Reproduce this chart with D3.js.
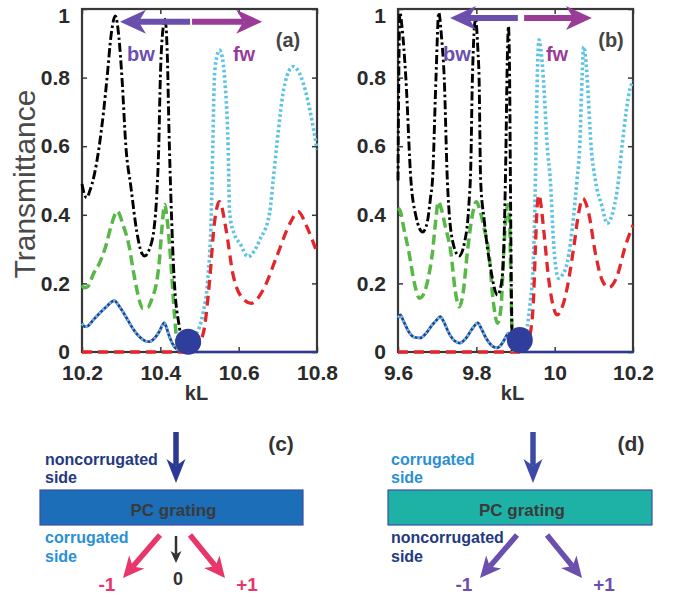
<!DOCTYPE html>
<html><head><meta charset="utf-8">
<script src="https://cdn.jsdelivr.net/npm/d3@7/dist/d3.min.js"></script>
<style>body{margin:0;background:#fff}svg{display:block}text{font-family:"Liberation Sans",Arial,sans-serif}</style>
</head><body><svg id="c" width="674" height="597"></svg>
<script>
// ---------- tick labels ----------
const xTicksA=[10.2,10.4,10.6,10.8];
const xTickLabelsA=["10.2","10.4","10.6","10.8"];
const xTicksB=[9.6,9.8,10,10.2];
const xTickLabelsB=["9.6","9.8","10","10.2"];
const yTicks=[0,0.2,0.4,0.6,0.8,1];
const yTickLabels=["0","0.2","0.4","0.6","0.8","1"];

// ---------- panel (a) series [kL, T] ----------
const blackA=[[10.200,0.49],[10.206,0.46],[10.212,0.45],[10.220,0.47],[10.232,0.52],[10.244,0.60],[10.255,0.70],[10.264,0.80],[10.275,0.93],[10.285,0.98],[10.294,0.92],[10.302,0.80],[10.312,0.60],[10.325,0.48],[10.340,0.35],[10.352,0.29],[10.360,0.28],[10.372,0.30],[10.384,0.36],[10.391,0.46],[10.396,0.60],[10.400,0.80],[10.405,0.92],[10.412,0.97],[10.418,0.86],[10.422,0.65],[10.427,0.45],[10.435,0.22],[10.449,0.07],[10.460,0.01],[10.470,0]];
const greenA=[[10.200,0.195],[10.206,0.187],[10.214,0.19],[10.230,0.23],[10.245,0.26],[10.261,0.31],[10.275,0.37],[10.290,0.41],[10.305,0.37],[10.320,0.31],[10.332,0.23],[10.342,0.172],[10.355,0.127],[10.368,0.13],[10.380,0.16],[10.390,0.20],[10.397,0.26],[10.404,0.36],[10.411,0.43],[10.418,0.38],[10.427,0.26],[10.436,0.11],[10.444,0.015],[10.452,0]];
const blueALeft=[[10.200,0.083],[10.207,0.074],[10.215,0.076],[10.230,0.095],[10.245,0.113],[10.265,0.135],[10.282,0.15],[10.297,0.13],[10.312,0.103],[10.330,0.068],[10.346,0.045],[10.360,0.033],[10.372,0.03],[10.385,0.04],[10.397,0.059],[10.410,0.085],[10.416,0.07],[10.423,0.045],[10.436,0.015],[10.450,0.004]];
const blueARight=[[10.465,0],[10.800,0]];
const cyanARight=[[10.465,0.02],[10.483,0.045],[10.492,0.054],[10.509,0.113],[10.521,0.21],[10.530,0.40],[10.534,0.60],[10.538,0.80],[10.544,0.86],[10.551,0.88],[10.558,0.86],[10.564,0.80],[10.573,0.60],[10.577,0.405],[10.590,0.34],[10.603,0.317],[10.624,0.278],[10.640,0.295],[10.654,0.327],[10.679,0.405],[10.688,0.50],[10.697,0.60],[10.718,0.783],[10.739,0.832],[10.760,0.80],[10.782,0.705],[10.800,0.59]];
const redA=[[10.200,0],[10.470,0],[10.490,0.008],[10.500,0.025],[10.513,0.074],[10.526,0.21],[10.538,0.375],[10.551,0.438],[10.568,0.356],[10.585,0.229],[10.607,0.161],[10.632,0.142],[10.662,0.18],[10.697,0.278],[10.731,0.375],[10.752,0.409],[10.774,0.365],[10.800,0.29]];
const dotA=[10.471,0.03];

// ---------- panel (b) series [kL, T] ----------
const blackB=[[9.600,0.50],[9.602,0.80],[9.605,0.99],[9.610,0.95],[9.620,0.80],[9.633,0.50],[9.645,0.40],[9.663,0.35],[9.675,0.38],[9.683,0.45],[9.688,0.50],[9.697,0.80],[9.704,0.99],[9.711,0.92],[9.718,0.80],[9.726,0.50],[9.740,0.32],[9.756,0.28],[9.770,0.32],[9.781,0.43],[9.786,0.55],[9.790,0.80],[9.798,0.97],[9.804,0.88],[9.807,0.80],[9.811,0.50],[9.820,0.385],[9.837,0.24],[9.854,0.166],[9.864,0.20],[9.870,0.30],[9.875,0.55],[9.879,0.85],[9.882,0.95],[9.885,0.80],[9.887,0.50],[9.890,0.12],[9.893,0.0]];
const greenB=[[9.600,0.42],[9.606,0.41],[9.615,0.36],[9.628,0.29],[9.642,0.20],[9.655,0.157],[9.666,0.17],[9.678,0.22],[9.688,0.29],[9.696,0.38],[9.703,0.438],[9.710,0.42],[9.720,0.37],[9.735,0.29],[9.746,0.18],[9.756,0.132],[9.766,0.17],[9.777,0.29],[9.790,0.40],[9.800,0.438],[9.810,0.41],[9.820,0.36],[9.832,0.29],[9.843,0.15],[9.854,0.084],[9.863,0.13],[9.870,0.29],[9.876,0.40],[9.881,0.43],[9.885,0.38],[9.888,0.22],[9.891,0.06],[9.894,0.0]];
const blueBLeft=[[9.600,0.10],[9.606,0.108],[9.614,0.09],[9.627,0.06],[9.642,0.043],[9.657,0.041],[9.672,0.055],[9.688,0.08],[9.700,0.095],[9.708,0.103],[9.716,0.09],[9.730,0.055],[9.745,0.032],[9.758,0.026],[9.772,0.038],[9.788,0.065],[9.804,0.085],[9.812,0.07],[9.825,0.04],[9.840,0.018],[9.853,0.012],[9.866,0.025],[9.876,0.045],[9.881,0.055],[9.886,0.045],[9.891,0.02],[9.900,0.005]];
const blueBRight=[[9.910,0],[10.200,0]];
const cyanBRight=[[9.910,0.02],[9.922,0.04],[9.930,0.074],[9.938,0.15],[9.945,0.25],[9.950,0.45],[9.953,0.65],[9.956,0.82],[9.960,0.91],[9.965,0.88],[9.971,0.80],[9.981,0.60],[9.989,0.50],[9.998,0.307],[10.010,0.215],[10.020,0.225],[10.032,0.259],[10.049,0.404],[10.057,0.50],[10.064,0.60],[10.070,0.80],[10.074,0.89],[10.078,0.87],[10.083,0.80],[10.093,0.60],[10.104,0.50],[10.121,0.424],[10.134,0.375],[10.150,0.414],[10.163,0.50],[10.172,0.60],[10.193,0.77],[10.200,0.79]];
const redB=[[9.600,0],[9.920,0],[9.934,0.035],[9.945,0.132],[9.951,0.307],[9.955,0.42],[9.960,0.458],[9.966,0.42],[9.972,0.356],[9.985,0.21],[9.995,0.14],[10.006,0.108],[10.027,0.161],[10.049,0.307],[10.061,0.404],[10.072,0.448],[10.087,0.404],[10.104,0.288],[10.121,0.21],[10.138,0.188],[10.159,0.22],[10.180,0.307],[10.200,0.37]];
const dotB=[9.911,0.035];

// ---------- annotation arrows (data coords): [tailKL, tipKL, T] ----------
const arrowsA={bw:[10.476,10.297,0.963],fw:[10.481,10.660,0.963]};
const arrowsB={bw:[9.906,9.733,0.974],fw:[9.922,10.095,0.974]};

const svg=d3.select("#c");
const C={black:"#000",green:"#57b847",red:"#e3262b",cyan:"#5cc4e2",blue:"#2d3b95",dot:"#2f3e9c",bw:"#6b4fae",fw:"#9b3b98",frame:"#383838"};

function arrow(g,x1,y1,x2,y2,color,sw,hl,hw){
  const dx=x2-x1,dy=y2-y1,L=Math.hypot(dx,dy),ux=dx/L,uy=dy/L,nx=-uy,ny=ux;
  const bx=x2-ux*hl,by=y2-uy*hl,mx=x2-ux*hl*0.72,my=y2-uy*hl*0.72;
  g.append("line").attr("x1",x1).attr("y1",y1).attr("x2",mx).attr("y2",my)
    .attr("stroke",color).attr("stroke-width",sw);
  g.append("path").attr("d",`M${x2},${y2}L${bx+nx*hw/2},${by+ny*hw/2}L${mx},${my}L${bx-nx*hw/2},${by-ny*hw/2}Z`)
    .attr("fill",color);
}

function panel(cfg){
  const g=svg.append("g");
  const x=d3.scaleLinear().domain(cfg.domain).range([cfg.x0,cfg.x1]);
  const y=d3.scaleLinear().domain([0,1]).range([352,9]);
  g.append("rect").attr("x",cfg.x0).attr("y",9).attr("width",cfg.x1-cfg.x0).attr("height",343)
    .attr("fill","none").attr("stroke",C.frame).attr("stroke-width",2.2);
  const ax=(axis,tr)=>{const a=g.append("g").attr("transform",tr).call(axis);a.select(".domain").remove();
    a.selectAll(".tick line").attr("stroke",C.frame).attr("stroke-width",1.5);return a;};
  const bx=ax(d3.axisBottom(x).tickValues(cfg.xt).tickSizeInner(-5).tickSizeOuter(0).tickPadding(13).tickFormat((d,i)=>cfg.xl[i]),"translate(0,352)");
  ax(d3.axisTop(x).tickValues(cfg.xt).tickSizeInner(-5).tickSizeOuter(0).tickFormat(""),"translate(0,9)");
  const ly=ax(d3.axisLeft(y).tickValues(yTicks).tickSizeInner(-5).tickSizeOuter(0).tickPadding(12).tickFormat((d,i)=>yTickLabels[i]),`translate(${cfg.x0},0)`);
  ax(d3.axisRight(y).tickValues(yTicks).tickSizeInner(-5).tickSizeOuter(0).tickFormat(""),`translate(${cfg.x1},0)`);
  [bx,ly].forEach(a=>a.selectAll("text").attr("font-size",21).attr("font-weight","bold").attr("fill","#2a2a2a")
    .style("font-family","'Liberation Sans',Arial,sans-serif"));
  ly.selectAll(".tick").filter(d=>d===1).select("text").attr("dy","0.62em");
  g.append("text").attr("x",(cfg.x0+cfg.x1)/2-3).attr("y",400).attr("text-anchor","middle")
    .attr("font-size",20).attr("font-weight","bold").attr("fill","#333").text("kL");
  const line=d3.line().x(d=>x(d[0])).y(d=>y(d[1])).curve(d3.curveMonotoneX);
  const draw=(data,color,w,dash)=>g.append("path").attr("d",line(data)).attr("fill","none")
    .attr("stroke",color).attr("stroke-width",w).attr("stroke-dasharray",dash||null);
  draw(cfg.blueL,C.blue,2.8); draw(cfg.blueR,C.blue,2.5);
  draw(cfg.blueL,C.cyan,2.6,"2.2,2.6"); draw(cfg.cyanR,C.cyan,3.6,"2.6,2.6");
  draw(cfg.red,C.red,3.3,"10,6");
  draw(cfg.green,C.green,3.5,"10,5");
  draw(cfg.black,C.black,2.9,"9,3,2.5,3");
  g.append("circle").attr("cx",x(cfg.dot[0])).attr("cy",y(cfg.dot[1])).attr("r",13).attr("fill",C.dot);
  const a=cfg.arrows;
  arrow(g,x(a.bw[0]),y(a.bw[2]),x(a.bw[1]),y(a.bw[2]),C.bw,6,26,24);
  arrow(g,x(a.fw[0]),y(a.fw[2]),x(a.fw[1]),y(a.fw[2]),C.fw,6,26,24);
  g.append("text").attr("x",cfg.bwx).attr("y",61).attr("text-anchor","middle").attr("font-size",20)
    .attr("font-weight","bold").attr("fill",C.bw).text("bw");
  g.append("text").attr("x",cfg.fwx).attr("y",61).attr("text-anchor","middle").attr("font-size",20)
    .attr("font-weight","bold").attr("fill",C.fw).text("fw");
  g.append("text").attr("x",cfg.labx).attr("y",47).attr("text-anchor","middle").attr("font-size",20)
    .attr("font-weight","bold").attr("fill","#444").text(cfg.lab);
}

panel({domain:[10.2,10.8],x0:82,x1:317,xt:xTicksA,xl:xTickLabelsA,black:blackA,green:greenA,blueL:blueALeft,blueR:blueARight,
  cyanR:cyanARight,red:redA,dot:dotA,arrows:arrowsA,bwx:141,fwx:244,labx:288,lab:"(a)"});
panel({domain:[9.6,10.2],x0:398,x1:633,xt:xTicksB,xl:xTickLabelsB,black:blackB,green:greenB,blueL:blueBLeft,blueR:blueBRight,
  cyanR:cyanBRight,red:redB,dot:dotB,arrows:arrowsB,bwx:457,fwx:557,labx:611,lab:"(b)"});

svg.append("text").attr("transform","translate(35,184) rotate(-90)").attr("text-anchor","middle")
  .attr("font-size",30).attr("fill","#4a4a4a").text("Transmittance");

// ---------- schematics (c) and (d) ----------
function schematic(s){
  const g=svg.append("g");
  g.append("rect").attr("x",s.rx).attr("y",490).attr("width",s.rw).attr("height",35)
    .attr("fill",s.fill).attr("stroke","#3d4da6").attr("stroke-width",1.2);
  g.append("text").attr("x",s.rx+s.rw/2+2).attr("y",516).attr("text-anchor","middle").attr("font-size",17)
    .attr("font-weight","bold").attr("fill","#3a3a3a").text("PC grating");
  const t=(x,y,txt,col,size,anchor)=>g.append("text").attr("x",x).attr("y",y).attr("font-size",size||16)
    .attr("font-weight","bold").attr("fill",col).attr("text-anchor",anchor||"start").text(txt);
  t(s.tx,465,s.top,s.topCol); t(s.tx,483,"side",s.topCol);
  t(s.tx,543,s.bot,s.botCol); t(s.tx,562,"side",s.botCol);
  t(s.labx,451,s.lab,"#333",21,"middle");
  arrow(g,s.ax,432,s.ax,483,s.inCol,5.5,24,19);
  arrow(g,s.ax-16,535,s.ax-53,578,s.outCol,5.5,21,20);
  arrow(g,s.ax+14,535,s.ax+49,578,s.outCol,5.5,21,20);
  t(s.ax-69,591,"-1",s.outCol,19,"middle");
  t(s.ax+71,591,"+1",s.outCol,19,"middle");
  if(s.zero){arrow(g,s.ax,536,s.ax,563,"#333",2.5,12,11); t(s.ax+2,585,"0","#333",18,"middle");}
}
schematic({rx:40,rw:263,fill:"#1b6eb7",tx:45,top:"noncorrugated",topCol:"#24397f",bot:"corrugated",botCol:"#2b8fd3",
  labx:281,lab:"(c)",ax:176,inCol:"#2c3a91",outCol:"#e8356a",zero:true});
schematic({rx:388,rw:264,fill:"#1eb2a7",tx:391,top:"corrugated",topCol:"#2b8fd3",bot:"noncorrugated",botCol:"#24397f",
  labx:631,lab:"(d)",ax:533,inCol:"#3d4aa5",outCol:"#6b4fae",zero:false});
</script></body></html>
